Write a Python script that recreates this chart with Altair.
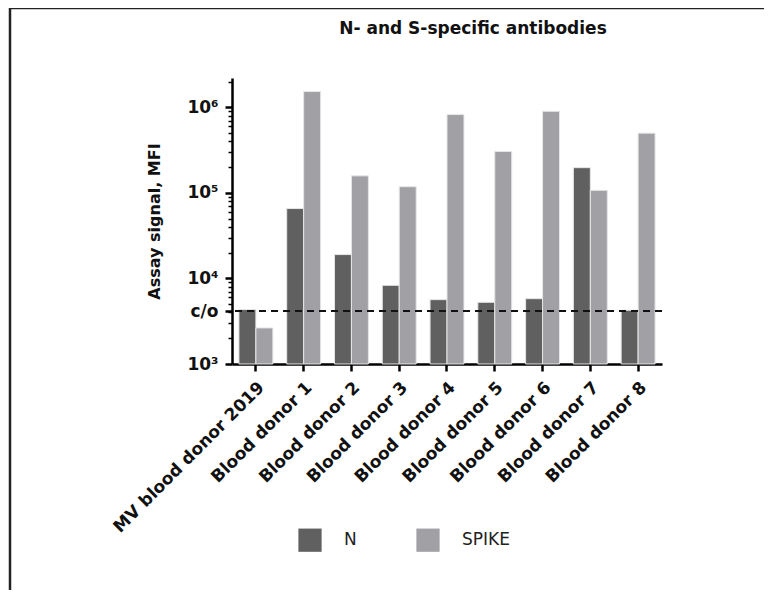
import altair as alt
import pandas as pd

donors = ["MV blood donor 2019", "Blood donor 1", "Blood donor 2", "Blood donor 3",
          "Blood donor 4", "Blood donor 5", "Blood donor 6", "Blood donor 7", "Blood donor 8"]
n_values = [4330, 65600, 19000, 8300, 5650, 5260, 5800, 197000, 4250]
spike_values = [2640, 1530000, 158000, 118000, 822000, 305000, 898000, 107000, 499000]
series = ["N", "SPIKE"]
colors = ["#606060", "#a1a0a5"]
cutoff = 4150
baseline = 1000
major_ticks = [1000, cutoff, 10000, 100000, 1000000]
minor_ticks = [m * 10 ** e for e in range(3, 7) for m in range(2, 10) if m * 10 ** e < 2200000]

rows = []
for d, n, s in zip(donors, n_values, spike_values):
    rows.append({"donor": d, "series": "N", "value": n})
    rows.append({"donor": d, "series": "SPIKE", "value": s})
df = pd.DataFrame(rows)

FONT = "DejaVu Sans"

yscale = alt.Scale(type="log", domain=[1000, 2200000], nice=False)

label_expr = ("datum.value == %d ? 'c/o' : datum.value == 1000 ? '10³' : datum.value == 10000 ? '10⁴' : "
              "datum.value == 100000 ? '10⁵' : '10⁶'") % cutoff

bars = alt.Chart(df).mark_bar(stroke="#e6e6e6", strokeWidth=1).encode(
    x=alt.X("donor:N", sort=donors,
            scale=alt.Scale(paddingInner=0.29, paddingOuter=0.145),
            axis=alt.Axis(title=None, labelAngle=-45, labelFont=FONT, labelFontSize=17,
                          labelFontWeight="bold", labelColor="#111", labelPadding=8,
                          tickSize=7, tickWidth=2.5, tickColor="black",
                          domainWidth=2.5, domainColor="black", labelLimit=400)),
    xOffset=alt.XOffset("series:N", sort=series),
    y=alt.Y("value:Q", scale=yscale,
            axis=alt.Axis(title="Assay signal, MFI", titleFont=FONT, titleFontSize=16,
                          titleFontWeight="bold", titleColor="#111", titlePadding=24,
                          values=major_ticks, labelExpr=label_expr, labelFont=FONT,
                          labelFontSize=17, labelFontWeight="bold", labelColor="#111",
                          labelPadding=7, tickSize=7, tickWidth=2.5, tickColor="black",
                          domainWidth=2.5, domainColor="black", grid=False, orient="left")),
    y2=alt.datum(baseline),
    color=alt.Color("series:N", sort=series,
                    scale=alt.Scale(domain=series, range=colors),
                    legend=alt.Legend(title=None, orient="none", legendX=66, legendY=450,
                                      direction="horizontal", symbolType="square",
                                      symbolSize=540, symbolStrokeWidth=0,
                                      labelFont=FONT, labelFontSize=17, labelColor="#222",
                                      labelOffset=22, columnPadding=24, gridAlign="all")),
)

cut_df = pd.DataFrame({"value": [cutoff]})
cut = alt.Chart(cut_df).mark_rule(color="#111", strokeWidth=2, strokeDash=[7, 5]).encode(
    y=alt.Y("value:Q", scale=yscale,
            axis=alt.Axis(title=None, values=minor_ticks, labels=False, tickSize=4,
                          tickWidth=1.5, tickColor="black", domain=False, grid=False,
                          orient="left")),
)

frame_left = alt.Chart(cut_df).mark_rule(color="#222", strokeWidth=2.5).encode(
    x=alt.value(-222), y=alt.value(-70), y2=alt.value(600))
frame_top = alt.Chart(cut_df).mark_rule(color="#222", strokeWidth=2.5).encode(
    x=alt.value(-222), x2=alt.value(560), y=alt.value(-70))

chart = alt.layer(bars, cut, frame_left, frame_top).resolve_axis(y="independent").properties(
    width=430, height=286,
    title=alt.Title("N- and S-specific antibodies", font=FONT, fontSize=17, fontWeight="bold",
                    color="#111", anchor="middle", dx=26, offset=-31, frame="group"),
    padding={"left": 224, "top": 70, "right": 102, "bottom": 226},
    autosize=alt.AutoSizeParams(type="none"),
).configure_view(stroke=None)

chart.save("out.html", embed_options={"renderer": "svg", "actions": False})
